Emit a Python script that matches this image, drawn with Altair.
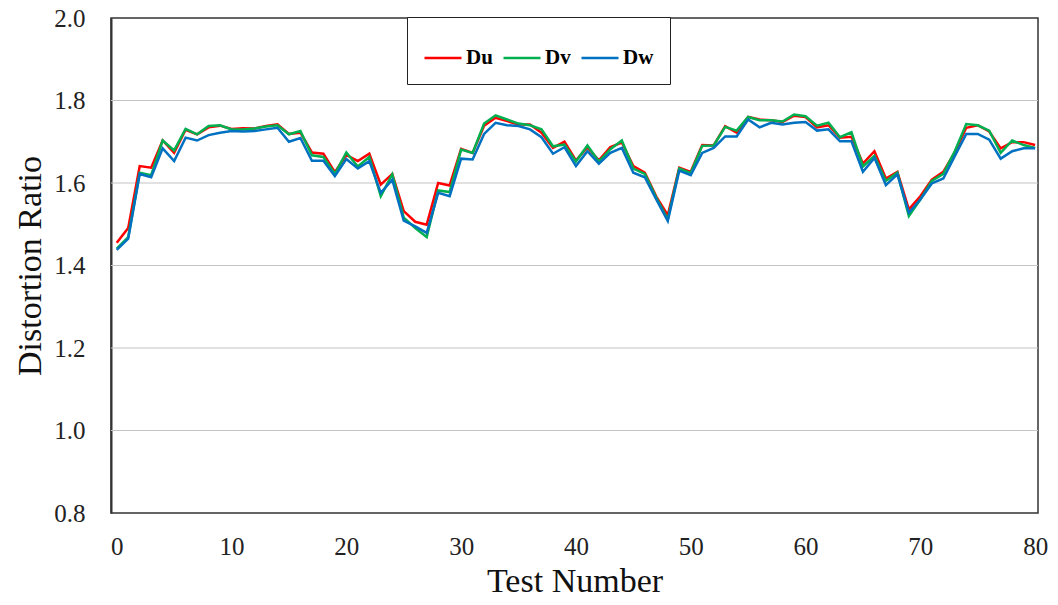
import altair as alt
import pandas as pd

# Test index along the x axis
test_number = list(range(81))

# Distortion ratios of the three components per test
du = [1.455, 1.491, 1.641, 1.637, 1.703, 1.673, 1.729, 1.718, 1.735, 1.739,
      1.731, 1.733, 1.732, 1.738, 1.742, 1.719, 1.722, 1.674, 1.671, 1.626,
      1.668, 1.653, 1.671, 1.596, 1.622, 1.532, 1.506, 1.499, 1.600, 1.594,
      1.683, 1.673, 1.739, 1.758, 1.750, 1.742, 1.742, 1.722, 1.685, 1.700,
      1.655, 1.686, 1.655, 1.687, 1.698, 1.641, 1.625, 1.567, 1.522, 1.637,
      1.627, 1.692, 1.691, 1.738, 1.722, 1.760, 1.754, 1.752, 1.748, 1.763,
      1.760, 1.735, 1.740, 1.710, 1.712, 1.647, 1.677, 1.611, 1.627, 1.536,
      1.568, 1.608, 1.627, 1.674, 1.734, 1.740, 1.725, 1.684, 1.699, 1.699,
      1.692]
dv = [1.441, 1.469, 1.625, 1.619, 1.703, 1.679, 1.731, 1.718, 1.738, 1.740,
      1.730, 1.730, 1.732, 1.737, 1.740, 1.718, 1.726, 1.667, 1.663, 1.622,
      1.674, 1.640, 1.663, 1.568, 1.621, 1.516, 1.491, 1.469, 1.582, 1.578,
      1.681, 1.673, 1.744, 1.764, 1.754, 1.744, 1.740, 1.730, 1.689, 1.693,
      1.652, 1.691, 1.652, 1.682, 1.703, 1.635, 1.622, 1.564, 1.512, 1.635,
      1.624, 1.690, 1.691, 1.736, 1.727, 1.760, 1.752, 1.752, 1.749, 1.766,
      1.762, 1.739, 1.746, 1.711, 1.723, 1.640, 1.666, 1.605, 1.625, 1.520,
      1.560, 1.605, 1.622, 1.677, 1.743, 1.740, 1.727, 1.673, 1.703, 1.692,
      1.685]
dw = [1.438, 1.465, 1.622, 1.614, 1.684, 1.653, 1.710, 1.703, 1.716, 1.722,
      1.726, 1.725, 1.726, 1.730, 1.734, 1.700, 1.709, 1.654, 1.654, 1.617,
      1.658, 1.635, 1.653, 1.576, 1.608, 1.509, 1.495, 1.479, 1.576, 1.568,
      1.659, 1.657, 1.719, 1.746, 1.740, 1.738, 1.730, 1.711, 1.671, 1.687,
      1.641, 1.677, 1.647, 1.673, 1.685, 1.625, 1.614, 1.560, 1.508, 1.630,
      1.619, 1.673, 1.685, 1.713, 1.713, 1.754, 1.735, 1.746, 1.742, 1.746,
      1.748, 1.727, 1.730, 1.701, 1.701, 1.627, 1.661, 1.595, 1.621, 1.528,
      1.560, 1.599, 1.611, 1.665, 1.719, 1.719, 1.705, 1.659, 1.677, 1.684,
      1.684]

series_names = ["Du", "Dv", "Dw"]
series_colors = ["#ff0000", "#00b050", "#0070c0"]

x_ticks = [0, 10, 20, 30, 40, 50, 60, 70, 80]
y_ticks = [0.8, 1.0, 1.2, 1.4, 1.6, 1.8, 2.0]
grid_values = [1.0, 1.2, 1.4, 1.6, 1.8]

rows = []
for k, (name, vals) in enumerate(zip(series_names, [du, dv, dw])):
    for t, v in zip(test_number, vals):
        rows.append({"Test": t, "Ratio": v, "Series": name, "k": k})
df = pd.DataFrame(rows)
grid_df = pd.DataFrame({"g": grid_values})

serif = "Liberation Serif"
x_scale = alt.Scale(domain=[-0.5, 80.25], nice=False, zero=False)
y_scale = alt.Scale(domain=[0.8, 2.0], nice=False, zero=False)

grid = alt.Chart(grid_df).mark_rule(color="#c4c4c4", strokeWidth=1.2).encode(
    y=alt.Y("g:Q", scale=y_scale)
)

lines = alt.Chart(df).mark_line(strokeWidth=2.5).encode(
    x=alt.X(
        "Test:Q",
        scale=x_scale,
        axis=alt.Axis(
            values=x_ticks, title="Test Number", grid=False, ticks=False,
            domain=False, labelFont=serif, labelFontSize=25, labelColor="#222222",
            labelPadding=21, titleFont=serif, titleFontSize=34,
            titleFontWeight="normal", titleColor="#111111", titlePadding=5,
        ),
    ),
    y=alt.Y(
        "Ratio:Q",
        scale=y_scale,
        axis=alt.Axis(
            values=y_ticks, format=".1f", title="Distortion Ratio", grid=False,
            ticks=False, domain=True, domainColor="#333333", domainWidth=2,
            labelFont=serif, labelFontSize=25, labelColor="#222222",
            labelPadding=26, titleFont=serif, titleFontSize=34,
            titleFontWeight="normal", titleColor="#111111", titlePadding=6,
        ),
    ),
    color=alt.Color(
        "Series:N",
        scale=alt.Scale(domain=series_names, range=series_colors),
        legend=alt.Legend(
            orient="none", legendX=296, legendY=-1, direction="horizontal",
            title=" ", titleFontSize=5, titlePadding=0,
            symbolType="stroke", symbolSize=1369,
            symbolStrokeWidth=2.5, labelFont=serif, labelFontWeight="bold",
            labelFontSize=21, labelColor="#000000", labelOffset=3,
            columnPadding=5, padding=16, strokeColor="#222222",
            fillColor="#ffffff",
        ),
    ),
    order=alt.Order("k:Q"),
)

chart = (
    alt.layer(grid, lines)
    .properties(
        width=927,
        height=495,
        padding={"left": 111, "top": 18, "right": 20, "bottom": 92},
        autosize=alt.AutoSizeParams(type="none"),
        background="#ffffff",
    )
    .configure_view(stroke="#333333", strokeWidth=1.5)
)

chart.save("out.html", embed_options={"renderer": "svg", "actions": False})
